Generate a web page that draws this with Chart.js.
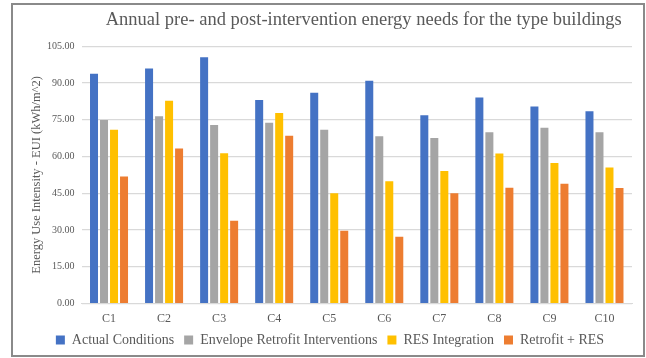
<!DOCTYPE html>
<html>
<head>
<meta charset="utf-8">
<script src="https://cdn.jsdelivr.net/npm/chart.js@4.4.1/dist/chart.umd.min.js"></script>
<style>
  html, body { margin: 0; padding: 0; background: #ffffff; }
  #wrap { width: 646px; height: 358px; position: relative; }
</style>
</head>
<body>
<div id="wrap"><canvas id="chart" width="646" height="358"></canvas></div>
<script>
// Building types
const categories = ['C1', 'C2', 'C3', 'C4', 'C5', 'C6', 'C7', 'C8', 'C9', 'C10'];

// Annual energy use intensity per scenario (kWh/m^2)
const actualConditions = [93.8, 95.9, 100.5, 83.1, 86.0, 90.9, 76.8, 84.1, 80.4, 78.5];
const envelopeRetrofit = [74.9, 76.4, 72.9, 73.8, 70.9, 68.3, 67.6, 69.9, 71.7, 69.9];
const resIntegration   = [70.9, 82.7, 61.3, 77.8, 45.0, 49.9, 54.1, 61.2, 57.4, 55.5];
const retrofitPlusRes  = [51.8, 63.3, 33.8, 68.5, 29.7, 27.3, 45.0, 47.3, 48.9, 47.2];

// Value axis ticks
const yTicks = [0, 15, 30, 45, 60, 75, 90, 105];

const seriesNames = ['Actual Conditions', 'Envelope Retrofit Interventions', 'RES Integration', 'Retrofit + RES'];
const seriesColors = ['#4472C4', '#A5A5A5', '#FFC000', '#ED7D31'];
const seriesValues = [actualConditions, envelopeRetrofit, resIntegration, retrofitPlusRes];

const SERIF = '"Liberation Serif", "Times New Roman", serif';
const TEXT = '#595959';
Chart.defaults.font.family = SERIF;
Chart.defaults.color = TEXT;

// White background, outer frame, and small right shifts of title and legend
const framePlugin = {
  id: 'frame',
  afterLayout(chart) {
    if (chart.titleBlock) {
      chart.titleBlock.left += 7;
      chart.titleBlock.right += 7;
    }
    if (chart.legend) {
      chart.legend.left += 8;
      chart.legend.right += 8;
    }
  },
  beforeDraw(chart) {
    const ctx = chart.ctx;
    ctx.save();
    ctx.fillStyle = '#ffffff';
    ctx.fillRect(0, 0, chart.width, chart.height);
    ctx.restore();
  },
  afterDraw(chart) {
    const ctx = chart.ctx;
    ctx.save();
    ctx.strokeStyle = '#8a8a8a';
    ctx.lineWidth = 2;
    ctx.strokeRect(12, 4, 632, 352);
    ctx.restore();
  }
};

new Chart(document.getElementById('chart'), {
  type: 'bar',
  data: {
    labels: categories,
    datasets: seriesValues.map((vals, i) => ({
      label: seriesNames[i],
      data: vals,
      backgroundColor: seriesColors[i],
      borderWidth: 0,
      categoryPercentage: 0.727,
      barPercentage: 0.8
    }))
  },
  options: {
    responsive: false,
    animation: false,
    devicePixelRatio: 1,
    layout: { padding: { left: 12, right: 14, top: 0, bottom: 1 } },
    plugins: {
      title: {
        display: true,
        text: 'Annual pre- and post-intervention energy needs for the type buildings',
        color: TEXT,
        fullSize: false,
        font: { family: SERIF, size: 18.5, weight: 'normal' },
        padding: { top: 9, bottom: 15 }
      },
      legend: {
        position: 'bottom',
        labels: {
          color: TEXT,
          font: { family: SERIF, size: 14, weight: 'normal' },
          boxWidth: 9,
          boxHeight: 9,
          padding: 10
        }
      },
      tooltip: { enabled: false }
    },
    scales: {
      x: {
        afterFit(scale) { scale.height -= 11; },
        grid: { display: false, drawTicks: false },
        border: { display: true, color: '#d9d9d9', width: 1 },
        ticks: { color: TEXT, font: { family: SERIF, size: 12 }, padding: 8 }
      },
      y: {
        min: 0,
        max: 105,
        afterFit(scale) { scale.width = 69.5; },
        afterBuildTicks(scale) { scale.ticks = yTicks.map(v => ({ value: v })); },
        grid: { color: '#d9d9d9', lineWidth: 1.2, drawTicks: false },
        border: { display: false },
        ticks: {
          color: TEXT,
          font: { family: SERIF, size: 10 },
          padding: 7,
          callback: v => Number(v).toFixed(2)
        },
        title: {
          display: true,
          text: 'Energy Use Intensity - EUI (kWh/m^2)',
          color: TEXT,
          font: { family: SERIF, size: 12.5 },
          padding: { top: 17, bottom: 0 }
        }
      }
    }
  },
  plugins: [framePlugin]
});
</script>
</body>
</html>
